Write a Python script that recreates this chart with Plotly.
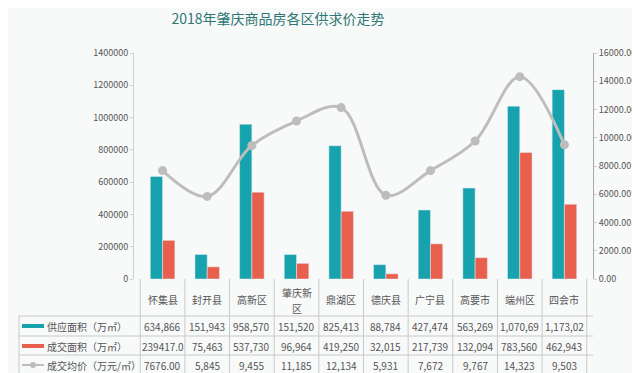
import plotly.graph_objects as go

categories = ["怀集县", "封开县", "高新区", "肇庆新区", "鼎湖区", "德庆县", "广宁县", "高要市", "端州区", "四会市"]
cat_lines = [["怀集县"], ["封开县"], ["高新区"], ["肇庆新", "区"], ["鼎湖区"], ["德庆县"], ["广宁县"], ["高要市"], ["端州区"], ["四会市"]]
supply = [634866, 151943, 958570, 151520, 825413, 88784, 427474, 563269, 1070690, 1173020]
deal = [239417, 75463, 537730, 96964, 419250, 32015, 217739, 132094, 783560, 462943]
price = [7676, 5845, 9455, 11185, 12134, 5931, 7672, 9767, 14323, 9503]
supply_lbl = ["634,866", "151,943", "958,570", "151,520", "825,413", "88,784", "427,474", "563,269", "1,070,69", "1,173,02"]
deal_lbl = ["239417.0", "75,463", "537,730", "96,964", "419,250", "32,015", "217,739", "132,094", "783,560", "462,943"]
price_lbl = ["7676.00", "5,845", "9,455", "11,185", "12,134", "5,931", "7,672", "9,767", "14,323", "9,503"]
series_names = ["供应面积（万㎡）", "成交面积（万㎡）", "成交均价（万元/㎡）"]
title = "2018年肇庆商品房各区供求价走势"

TEAL = "#17a3ae"
RED = "#e8604d"
GRAY = "#bdbdbd"
FONT = "Noto Sans CJK SC"
TXT = "#555555"

W, H = 640, 373
L, R, T, B = 126, 55, 45, 102
PH = H - T - B
PW = W - L - R


def py(ypix):
    return (T + PH - ypix) / PH


def px(xpix):
    return (xpix - L) / PW


fig = go.Figure()
fig.add_trace(go.Bar(x=categories, y=supply, name=series_names[0], marker_color=TEAL, showlegend=False))
fig.add_trace(go.Bar(x=categories, y=deal, name=series_names[1], marker_color=RED, showlegend=False))
fig.add_trace(go.Scatter(x=categories, y=price, name=series_names[2], yaxis="y2", mode="lines+markers",
                         line=dict(color=GRAY, width=3, shape="spline", smoothing=1.0),
                         marker=dict(color=GRAY, size=9), showlegend=False))

shapes = []
ann = []
LINE = "#c9c9c9"
n = len(categories)
for i in range(n + 1):
    shapes.append(dict(type="line", xref="x", yref="paper", x0=i - 0.5, x1=i - 0.5,
                       y0=py(271), y1=py(367), line=dict(color=LINE, width=1)))
shapes.append(dict(type="line", xref="paper", yref="paper", x0=px(11), x1=px(11),
                   y0=py(308), y1=py(367), line=dict(color=LINE, width=1)))
for yy in [308, 328, 347, 367]:
    shapes.append(dict(type="line", xref="paper", yref="paper", x0=px(11), x1=1,
                       y0=py(yy), y1=py(yy), line=dict(color=LINE, width=1)))

for i, lines in enumerate(cat_lines):
    ys = [291] if len(lines) == 1 else [284, 300]
    for t, yy in zip(lines, ys):
        ann.append(dict(x=i, y=py(yy), xref="x", yref="paper", text=t, showarrow=False,
                        font=dict(family=FONT, size=10, color=TXT), xanchor="center", yanchor="middle"))
rows = [(318, supply_lbl), (338, deal_lbl), (357, price_lbl)]
for (yy, lbls) in rows:
    for i, t in enumerate(lbls):
        ann.append(dict(x=i, y=py(yy), xref="x", yref="paper", text=t, showarrow=False,
                        font=dict(family=FONT, size=10, color=TXT), xanchor="center", yanchor="middle"))
for k, (yy, _) in enumerate(rows):
    ann.append(dict(x=px(37), y=py(yy), xref="paper", yref="paper", text=series_names[k], showarrow=False,
                    font=dict(family=FONT, size=10, color=TXT), xanchor="left", yanchor="middle"))
shapes.append(dict(type="rect", xref="paper", yref="paper", x0=px(14), x1=px(36), y0=py(316), y1=py(320),
                   fillcolor=TEAL, line=dict(width=0)))
shapes.append(dict(type="rect", xref="paper", yref="paper", x0=px(14), x1=px(36), y0=py(336), y1=py(340),
                   fillcolor=RED, line=dict(width=0)))
shapes.append(dict(type="line", xref="paper", yref="paper", x0=px(14), x1=px(36), y0=py(357), y1=py(357),
                   line=dict(color=GRAY, width=2)))
shapes.append(dict(type="circle", xref="paper", yref="paper", x0=px(22), x1=px(28), y0=py(354), y1=py(360),
                   fillcolor=GRAY, line=dict(width=0)))

fig.update_layout(
    width=W, height=H,
    margin=dict(l=L, r=R, t=T, b=B, pad=0),
    paper_bgcolor="#f8f9f9", plot_bgcolor="#f8f9f9",
    title=dict(text=title, x=270 / W, xanchor="center", y=1 - 11 / H, yanchor="middle",
               font=dict(family=FONT, size=14, color="#2e7775")),
    barmode="group", bargap=0.45, bargroupgap=0,
    xaxis=dict(showticklabels=False, showline=False, ticks="", showgrid=False, zeroline=False),
    yaxis=dict(range=[0, 1400000], dtick=200000, tickformat="d", showgrid=False, zeroline=False,
               showline=True, linecolor="#cfcfcf", ticks="outside", ticklen=3, tickcolor="#cfcfcf",
               tickfont=dict(family=FONT, size=9, color=TXT)),
    yaxis2=dict(range=[0, 16000], dtick=2000, tickformat=".2f", overlaying="y", side="right",
                showgrid=False, zeroline=False, showline=True, linecolor="#a8a8a8", ticks="outside",
                ticklen=3, tickcolor="#cfcfcf", tickfont=dict(family=FONT, size=9, color=TXT)),
    shapes=shapes, annotations=ann,
)

fig.write_html("out.html")
